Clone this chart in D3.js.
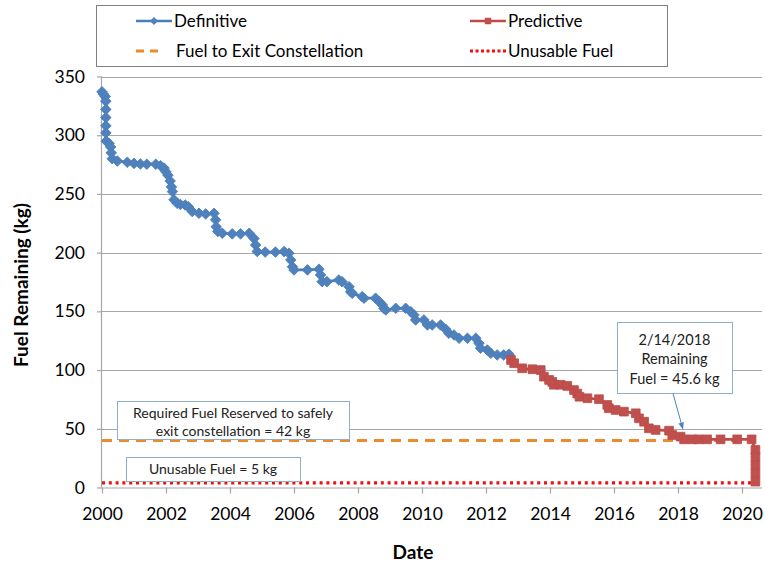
<!DOCTYPE html>
<html>
<head>
<meta charset="utf-8">
<script src="https://cdn.jsdelivr.net/npm/d3@7/dist/d3.min.js"></script>
<style>
  html, body { margin: 0; padding: 0; background: #fff; }
  svg { display: block; font-family: Lato, "Open Sans", sans-serif; }
</style>
</head>
<body>
<svg id="chart" width="766" height="563"></svg>
<script>
// ---- data ----
const defDates = [2000.00,2000.04,2000.10,2000.12,2000.12,2000.12,2000.12,2000.12,2000.13,2000.22,2000.27,2000.29,2000.32,2000.48,2000.79,2001.00,2001.20,2001.40,2001.68,2001.83,2001.94,2001.99,2002.06,2002.13,2002.17,2002.20,2002.25,2002.35,2002.45,2002.60,2002.70,2002.82,2003.03,2003.24,2003.50,2003.55,2003.57,2003.62,2003.76,2004.07,2004.33,2004.60,2004.75,2004.80,2004.85,2005.10,2005.42,2005.69,2005.84,2005.90,2005.95,2006.00,2006.42,2006.78,2006.83,2006.88,2007.03,2007.40,2007.50,2007.72,2007.77,2007.82,2008.13,2008.19,2008.55,2008.66,2008.76,2008.81,2008.87,2009.18,2009.49,2009.65,2009.75,2009.80,2010.06,2010.17,2010.32,2010.58,2010.74,2010.84,2011.00,2011.16,2011.42,2011.68,2011.78,2011.83,2012.04,2012.15,2012.35,2012.55,2012.72];
const defFuel  = [337,335,333,329,322,315,308,302,295,293,290,285,280,278,277,276,275.5,275.3,275.3,274,272,269,266,261,256,252,245,242,241,240.6,239,235,233.5,233,233.5,228,222,218,216.5,216,216,216.5,212,206.5,201,200.5,200.5,200.9,199.5,193.8,188,185.3,185.3,185.9,181,175.3,175.3,176.7,175.3,171,166.8,165.4,162.5,161.2,161.2,158.3,155.5,152.6,151.2,152.6,152.6,149.7,146.9,142.7,142.7,138.4,138.4,138.4,134.8,131.3,129.9,127.1,127.1,127.1,122.8,118.6,117.1,114.3,112.9,112.9,113.5];
const predDates = [2012.78,2012.88,2013.13,2013.45,2013.71,2013.81,2013.97,2014.07,2014.12,2014.33,2014.54,2014.75,2014.85,2014.92,2015.17,2015.53,2015.79,2015.84,2016.05,2016.31,2016.68,2016.78,2016.94,2017.09,2017.30,2017.72,2017.82,2018.08,2018.19,2018.45,2018.65,2018.91,2019.33,2019.85,2020.30,2020.42,2020.42,2020.42,2020.42,2020.42];
const predFuel  = [108.6,105.8,101.5,100.7,100,94.4,91.6,90,87.5,87.5,86.5,83,80,77.3,76,75.2,70.3,67.5,66,64.6,63.2,58.9,56,50.4,49,48.4,44.7,43.3,41,41,41,41,41,41,41,32,26,19,12,5];
const exitDates = [2000, 2020.42];
const exitFuel  = [40, 40];
const unusableDates = [2000, 2020.42];
const unusableFuel  = [4, 4];
const xTicks = [2000,2002,2004,2006,2008,2010,2012,2014,2016,2018,2020];
const yTicks = [0,50,100,150,200,250,300,350];
const legendLabels = ["Definitive","Predictive","Fuel to Exit Constellation","Unusable Fuel"];
const noteDate = ["2/14/2018","Remaining","Fuel = 45.6 kg"];
const noteExit = ["Required Fuel Reserved to safely","exit constellation = 42 kg"];
const noteUnusable = ["Unusable Fuel = 5 kg"];

// ---- style ----
const BLUE = "#4A7EBB", BLUE_M = "#4F81BD";
const RED = "#BE4B48", RED_M = "#C0504D";
const ORANGE = "#EC8A2E", DOTRED = "#F01010";
const GRID = "#A6A6A6", BOXC = "#8FB0C4";

const svg = d3.select("#chart");
const x = d3.scaleLinear().domain([2000, 2020.625]).range([102, 762]);
const y = d3.scaleLinear().domain([0, 350]).range([487.5, 76.5]);

// gridlines
svg.append("g").selectAll("line").data(yTicks.filter(d => d > 0)).join("line")
  .attr("x1", x(2000)).attr("x2", x.range()[1])
  .attr("y1", d => Math.round(y(d)) + 0.5).attr("y2", d => Math.round(y(d)) + 0.5)
  .attr("stroke", GRID).attr("stroke-width", 1);

// axes
const yAxis = d3.axisLeft(y).tickValues(yTicks).tickSize(5).tickPadding(12).tickFormat(d3.format("d"));
const gy = svg.append("g").attr("transform", `translate(${x(2000)},0)`).call(yAxis);
const xAxis = d3.axisBottom(x).tickValues(xTicks).tickSize(6).tickPadding(14).tickFormat(d3.format("d"));
const gx = svg.append("g").attr("transform", `translate(0,${y(0)})`).call(xAxis);
[gx, gy].forEach(g => {
  g.select(".domain").attr("stroke", GRID).attr("stroke-width", 1.2);
  g.selectAll(".tick line").attr("stroke", GRID).attr("stroke-width", 1.2);
  g.selectAll(".tick text").attr("fill", "#000").attr("font-size", 17.5).attr("font-family", "Lato, sans-serif");
});
gx.select(".domain").attr("d", `M${x(2000)},0.5H${x.range()[1]}`);
gy.select(".domain").attr("d", `M-0.5,${y(0)}V${y(350)}`);

// axis titles
svg.append("text").attr("x", 413).attr("y", 559).attr("text-anchor", "middle")
  .attr("font-weight", "bold").attr("font-size", 19).text("Date");
svg.append("text").attr("transform", "translate(28,285) rotate(-90)").attr("text-anchor", "middle")
  .attr("font-weight", "bold").attr("font-size", 19).text("Fuel Remaining (kg)");

// reference lines
const line = d3.line().x(d => x(d[0])).y(d => y(d[1]));
const exitPts = d3.zip(exitDates, exitFuel);
const unusablePts = d3.zip(unusableDates, unusableFuel);
svg.append("path").attr("d", line(exitPts)).attr("fill", "none")
  .attr("stroke", ORANGE).attr("stroke-width", 3).attr("stroke-dasharray", "10,7");
svg.append("path").attr("d", line(unusablePts)).attr("fill", "none")
  .attr("stroke", DOTRED).attr("stroke-width", 3.2).attr("stroke-dasharray", "3,3.8");

// series
const defPts = d3.zip(defDates, defFuel);
const predPts = d3.zip(predDates, predFuel);
svg.append("path").attr("d", line(defPts)).attr("fill", "none").attr("stroke", BLUE).attr("stroke-width", 2.75);
svg.append("path").attr("d", line(predPts)).attr("fill", "none").attr("stroke", RED).attr("stroke-width", 2.75);
const diamond = d3.symbol(d3.symbolSquare, 56);
const square = d3.symbol(d3.symbolSquare, 76);
svg.append("g").selectAll("path").data(defPts).join("path")
  .attr("d", diamond).attr("transform", d => `translate(${x(d[0])},${y(d[1])}) rotate(45)`)
  .attr("fill", BLUE_M).attr("stroke", BLUE).attr("stroke-width", 0.8);
svg.append("g").selectAll("path").data(predPts).join("path")
  .attr("d", square).attr("transform", d => `translate(${x(d[0])},${y(d[1])})`)
  .attr("fill", RED_M).attr("stroke", RED).attr("stroke-width", 0.8);

// annotations
function noteBox(x0, y0, w, h, lines, lineY, cx, fs) {
  const g = svg.append("g");
  g.append("rect").attr("x", x0 + 0.5).attr("y", y0 + 0.5).attr("width", w).attr("height", h)
    .attr("fill", "#fff").attr("stroke", BOXC).attr("stroke-width", 1);
  g.selectAll("text").data(lines).join("text")
    .attr("x", cx).attr("y", (d, i) => lineY[i]).attr("text-anchor", "middle")
    .attr("font-size", fs).attr("fill", "#222").text(d => d);
  return g;
}
noteBox(117, 401, 232, 38, noteExit, [418, 436], 233, 14);
noteBox(126, 457, 174, 24, noteUnusable, [474], 213, 14);
noteBox(617, 322, 115, 71, noteDate, [345, 364, 384], 674.5, 14.5);

// arrow
svg.append("defs").append("marker").attr("id", "ah").attr("viewBox", "0 0 10 10")
  .attr("refX", 9).attr("refY", 5).attr("markerWidth", 7).attr("markerHeight", 7)
  .attr("orient", "auto").append("path").attr("d", "M0,1L10,5L0,9z").attr("fill", BLUE_M);
svg.append("line").attr("x1", 673).attr("y1", 393.5).attr("x2", x(2018.15)).attr("y2", y(50))
  .attr("stroke", BLUE_M).attr("stroke-width", 1).attr("marker-end", "url(#ah)");

// legend
const lg = svg.append("g");
lg.append("rect").attr("x", 96.5).attr("y", 5.5).attr("width", 571).attr("height", 61)
  .attr("fill", "#fff").attr("stroke", "#7F7F7F").attr("stroke-width", 1);
const legendItems = [
  {x: 136, y: 21, type: "def"},
  {x: 470, y: 21, type: "pred"},
  {x: 136, y: 51, type: "exit"},
  {x: 470, y: 51, type: "unus"}
];
legendItems.forEach((it, i) => {
  const g = lg.append("g").attr("transform", `translate(${it.x},${it.y})`);
  if (it.type === "def") {
    g.append("line").attr("x1", 0).attr("x2", 36).attr("stroke", BLUE).attr("stroke-width", 2.5);
    g.append("path").attr("d", d3.symbol(d3.symbolSquare, 32)).attr("transform", "translate(18,0) rotate(45)").attr("fill", BLUE_M);
  } else if (it.type === "pred") {
    g.append("line").attr("x1", 0).attr("x2", 36).attr("stroke", RED).attr("stroke-width", 2.5);
    g.append("path").attr("d", d3.symbol(d3.symbolSquare, 42)).attr("transform", "translate(18,0)").attr("fill", RED_M);
  } else if (it.type === "exit") {
    g.append("line").attr("x1", 0).attr("x2", 24).attr("stroke", ORANGE).attr("stroke-width", 3).attr("stroke-dasharray", "8,6");
  } else {
    g.append("line").attr("x1", 0).attr("x2", 36).attr("stroke", DOTRED).attr("stroke-width", 3).attr("stroke-dasharray", "3,2.5");
  }
  g.append("text").attr("x", it.type === "exit" ? 40 : 38).attr("y", 6).attr("font-size", 17).attr("fill", "#000").text(legendLabels[i]);
});
</script>
</body>
</html>
